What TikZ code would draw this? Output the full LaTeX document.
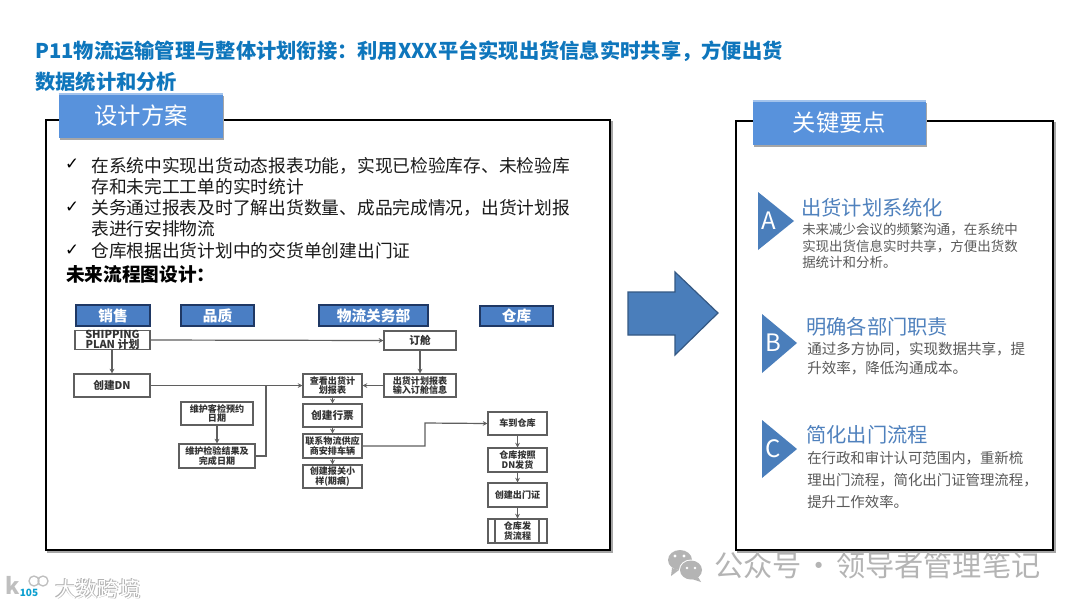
\documentclass[tikz,border=0pt]{standalone}
\usepackage{fontspec}
\setmainfont{Noto Sans CJK SC}
\newfontfamily\dejavu{DejaVu Sans}
\usetikzlibrary{arrows.meta,shadings}
\definecolor{ttl}{HTML}{0E76BC}
\definecolor{tabc}{HTML}{5892DC}
\definecolor{hdr}{HTML}{4A7EC4}
\definecolor{hdrb}{HTML}{1F3864}
\definecolor{bluet}{HTML}{4F81BD}
\definecolor{tri}{HTML}{4A7EBB}
\definecolor{gtxt}{HTML}{595959}
\definecolor{ln}{HTML}{5F5F5F}
\definecolor{wm}{HTML}{B4B4B4}
\newcommand{\fs}[2]{\fontsize{#1}{#2}\selectfont}
% \bxn{name}{style}{x1}{y1}{x2}{y2}{text}
\newcommand{\bxn}[7]{\node[#2,minimum width={(#5-#3)*0.75pt},minimum height={(#6-#4)*0.75pt}] (#1) at ({(#3+#5)/2},{(#4+#6)/2}) {#7};}
\tikzset{
  panelbox/.style={draw=black,line width=1.9pt,fill=white},
  panelshade/.style={draw=black!35,line width=2.2pt},
  tabbox/.style={inner sep=0pt,fill=tabc,draw=none,text=white,font=\fs{17.5}{20}},
  tabshade/.style={fill=black!35,draw=none},
  tabtop/.style={draw=tabc!55!white,line width=1.6pt},
  hdrbox/.style={inner sep=0pt,fill=hdr,draw=hdrb,line width=1pt,text=white,font=\fs{11}{12}\bfseries},
  flowbox/.style={inner sep=0pt,fill=white,draw=ln,line width=.8pt,align=center,font=\fs{6.8}{7.3}\bfseries,text=black!80},
  flowbig/.style={flowbox,font=\fs{8}{9}\bfseries},
  flowship/.style={flowbox,font=\fs{8.2}{7.6}\bfseries},
  conn/.style={draw=ln,line width=.9pt,-{Stealth[length=3.5pt,width=3.5pt]}},
  connp/.style={draw=ln,line width=.9pt},
  ttltxt/.style={anchor=west,inner sep=0pt,text=ttl,font=\fs{15.2}{18}\bfseries},
  bodytxt/.style={anchor=north west,inner sep=0pt,align=left,font=\fs{13.3}{15.6},text=black!90},
  chk/.style={anchor=center,inner sep=0pt,font=\dejavu\fs{12.5}{14},text=black},
  keyhead/.style={anchor=west,inner sep=0pt,text=bluet,font=\fs{15.2}{18}},
  keytxt/.style={anchor=north west,inner sep=0pt,align=left,text=gtxt},
  tritext/.style={inner sep=0pt,text=white,font=\fs{18}{20}},
  wmtxt/.style={anchor=west,inner sep=0pt,text=wm,font=\fs{21.9}{24}},
}
\begin{document}
\begin{tikzpicture}[x=0.75pt,y=-0.75pt]
\useasboundingbox (0,0) rectangle (1080,608);
\fill[white] (0,0) rectangle (1080,608);

% title
\node[ttltxt] (t1) at (35,51) {P11物流运输管理与整体计划衔接：利用XXX平台实现出货信息实时共享，方便出货};
\node[ttltxt] (t2) at (35,82) {数据统计和分析};

% panels
\draw[panelshade] (48,122) rectangle (612,552);
\draw[panelbox] (46,120) rectangle (610,550);
\draw[panelshade] (738,123) rectangle (1055,552);
\draw[panelbox] (736,121) rectangle (1053,550);

% tabs
\fill[tabshade] (60,96) rectangle (224,140);
\bxn{tabL}{tabbox}{59}{94}{223}{138}{设计方案}
\draw[tabtop] (tabL.north west) -- (tabL.north east);
\fill[tabshade] (754,103) rectangle (927,147);
\bxn{tabR}{tabbox}{753}{101}{926}{145}{关键要点}
\draw[tabtop] (tabR.north west) -- (tabR.north east);

% bullets
\node[chk] (c1) at (72,164) {✓};
\node[chk] (c2) at (72,207) {✓};
\node[chk] (c3) at (72,250) {✓};
\node[bodytxt] (b1) at (91,157) {在系统中实现出货动态报表功能，实现已检验库存、未检验库\\存和未完工工单的实时统计};
\node[bodytxt] (b2) at (91,199) {关务通过报表及时了解出货数量、成品完成情况，出货计划报\\表进行安排物流};
\node[bodytxt] (b3) at (91,242) {仓库根据出货计划中的交货单创建出门证};
\node[anchor=west,inner sep=0pt,font=\fs{14}{16}\bfseries] (fl) at (66,274) {未来流程图设计：};

% headers
\bxn{h1}{hdrbox}{76}{305}{150}{326}{销售}
\bxn{h2}{hdrbox}{181}{305}{254}{326}{品质}
\bxn{h3}{hdrbox}{319}{305}{428}{326}{物流关务部}
\bxn{h4}{hdrbox}{480}{306}{553}{326}{仓库}

% flow boxes
\bxn{ship}{flowship}{75}{331}{150}{349}{SHIPPING\\PLAN 计划}
\bxn{dn}{flowbig}{74}{374}{150}{397}{创建DN}
\bxn{kj}{flowbox}{181}{402}{253}{425}{维护客检预约\\日期}
\bxn{jg}{flowbox}{179}{444}{255}{468}{维护检验结果及\\完成日期}
\bxn{dc}{flowbig}{384}{331}{456}{350}{订舱}
\bxn{sr}{flowbox}{384}{374}{456}{397}{出货计划报表\\输入订舱信息}
\bxn{ck}{flowbox}{303}{374}{362}{397}{查看出货计\\划报表}
\bxn{xp}{flowbig}{303}{404}{362}{427}{创建行票}
\bxn{lx}{flowbox}{303}{434}{362}{458}{联系物流供应\\商安排车辆}
\bxn{bg}{flowbox}{303}{465}{362}{488}{创建报关小\\样(期痕)}
\bxn{cd}{flowbox}{488}{412}{547}{435}{车到仓库}
\bxn{fh}{flowbox}{488}{448}{547}{472}{仓库按照\\DN发货}
\bxn{cm}{flowbox}{488}{483}{547}{507}{创建出门证}
\bxn{lc}{flowbox}{488}{519}{547}{543}{仓库发\\货流程}
\draw[draw=ln,line width=.8pt] (495,519) -- (495,543) (539,519) -- (539,543);

% connectors
\coordinate (j) at (266,386);
\coordinate (e1) at (425,446);
\coordinate (e2) at (425,423);
\draw[conn] (ship.east) -- (dc.west);
\draw[conn] (ship.south -| dn.north) -- (dn.north);
\draw[conn] (dn.east) -- (ck.west);
\draw[conn] (kj.south) -- (jg.north -| kj.south);
\draw[connp] (jg.east) -| (j);
\draw[conn] (dc.south) -- (sr.north);
\draw[conn] (sr.west) -- (ck.east);
\draw[conn] (ck.south) -- (xp.north);
\draw[conn] (xp.south) -- (lx.north);
\draw[conn] (lx.south) -- (bg.north);
\draw[conn] (lx.east) -- (e1) -- (e2) -- (cd.west);
\draw[conn] (cd.south) -- (fh.north);
\draw[conn] (fh.south) -- (cm.north);
\draw[conn] (cm.south) -- (lc.north);

% big arrow
\draw[fill=tri,draw=tri!70!black,line width=.9pt] (628,292) -- (675,292) -- (675,272) -- (718,313) -- (675,355) -- (675,335) -- (628,335) -- cycle;

% key points
\fill[tri] (758,192) -- (794,221) -- (758,250) -- cycle;
\node[tritext] (ta) at (769,221) {A};
\node[keyhead] (ka) at (801,208) {出货计划系统化};
\node[keytxt,font=\fs{10.1}{12.4}] (kat) at (802,223) {未来减少会议的频繁沟通，在系统中\\实现出货信息实时共享，方便出货数\\据统计和分析。};

\fill[tri] (762,314) -- (797,343) -- (762,373) -- cycle;
\node[tritext] (tb) at (773,343) {B};
\node[keyhead] (kb) at (806,327) {明确各部门职责};
\node[keytxt,font=\fs{10.9}{14.2}] (kbt) at (807,342) {通过多方协同，实现数据共享，提\\升效率，降低沟通成本。};

\fill[tri] (762,420) -- (797,449) -- (762,478) -- cycle;
\node[tritext] (tc) at (773,449) {C};
\node[keyhead] (kc) at (806,435) {简化出门流程};
\node[keytxt,font=\fs{10.8}{16.4}] (kct) at (807,451.5) {在行政和审计认可范围内，重新梳\\理出门流程，简化出门证管理流程，\\提升工作效率。};

% watermark
\fill[wm] (680,560) ellipse (12 and 10);
\fill[wm] (672,568) -- (671,576) -- (679,570) -- cycle;
\fill[white] (691,570) ellipse (12 and 10.5);
\fill[wm] (691,570) ellipse (11 and 9.5);
\fill[wm] (698,577) -- (701,582) -- (692,579) -- cycle;
\fill[white] (675,556) circle (1.6) (684,556) circle (1.6) (687,568) circle (1.4) (695,568) circle (1.4);
\node[wmtxt] (wmk) at (714,565) {公众号\hspace{-3pt} · \hspace{-3pt}领导者管理笔记};

% logo
\node[anchor=west,inner sep=0pt,text=black!30,font=\fs{16}{18}] (lg1) at (56,589.6) {大数跨境};
\node[anchor=west,inner sep=0pt,text=black!30,font=\fs{16}{18}] (lg3) at (54,588.4) {大数跨境};
\node[anchor=west,inner sep=0pt,text=white,font=\fs{16}{18}] (lg2) at (55,589) {大数跨境};
\node[inner sep=0pt,text=black!25,font=\fs{17}{18}\bfseries] (lgk) at (13,585) {k};
\draw[black!25,line width=1pt] (34,581) circle (5) (43,581) circle (5);
\node[inner sep=0pt,text=ttl!70!cyan,font=\fs{7.5}{8}\bfseries] (lgn) at (29,593) {105};
\end{tikzpicture}
\end{document}
